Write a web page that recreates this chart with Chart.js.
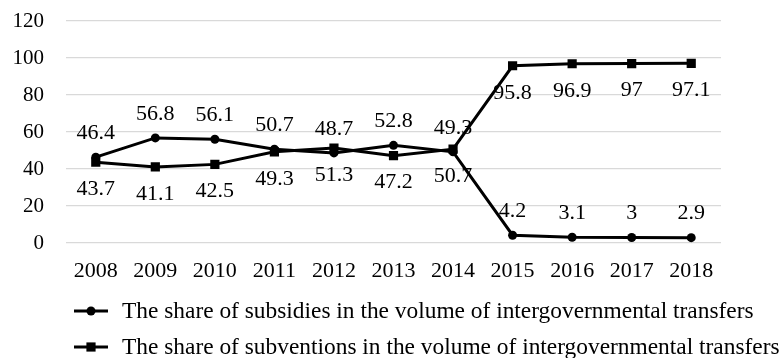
<!DOCTYPE html>
<html>
<head>
<meta charset="utf-8">
<script src="https://cdn.jsdelivr.net/npm/chart.js@4.4.1/dist/chart.umd.min.js"></script>
<style>
  html, body { margin: 0; padding: 0; background: #fff; }
  #wrap { width: 783px; height: 358px; position: relative; }
</style>
</head>
<body>
<div id="wrap"><canvas id="transfersChart"></canvas></div>
<script>
const years = ['2008', '2009', '2010', '2011', '2012', '2013', '2014', '2015', '2016', '2017', '2018'];
const subsidiesShare = [46.4, 56.8, 56.1, 50.7, 48.7, 52.8, 49.3, 4.2, 3.1, 3, 2.9];
const subventionsShare = [43.7, 41.1, 42.5, 49.3, 51.3, 47.2, 50.7, 95.8, 96.9, 97, 97.1];
const yTicks = [0, 20, 40, 60, 80, 100, 120];
const seriesNames = [
    'The share of subsidies in the volume of intergovernmental transfers',
    'The share of subventions in the volume of intergovernmental transfers'
];

const SERIF = "'Liberation Serif', 'Times New Roman', serif";
Chart.defaults.font.family = SERIF;
Chart.defaults.color = '#000';

// value printed next to every point, drawn under the lines
const valueLabels = {
    id: 'valueLabels',
    beforeDatasetsDraw(chart, args, opts) {
        const ctx = chart.ctx;
        ctx.save();
        ctx.font = opts.font;
        ctx.fillStyle = opts.color;
        ctx.textAlign = 'center';
        ctx.textBaseline = 'middle';
        chart.data.datasets.forEach((ds, i) => {
            chart.getDatasetMeta(i).data.forEach((pt, j) => {
                ctx.fillText(String(ds.data[j]), pt.x, pt.y + opts.offsets[i]);
            });
        });
        ctx.restore();
    }
};

// line + marker key under the axis, one row per series
const seriesKey = {
    id: 'seriesKey',
    afterDraw(chart, args, opts) {
        const ctx = chart.ctx;
        ctx.save();
        ctx.font = opts.font;
        ctx.textBaseline = 'middle';
        ctx.textAlign = 'left';
        chart.data.datasets.forEach((ds, i) => {
            const y = opts.top + i * opts.rowGap;
            const cx = opts.x + opts.lineLength / 2;
            ctx.strokeStyle = ds.borderColor;
            ctx.lineWidth = ds.borderWidth;
            ctx.beginPath();
            ctx.moveTo(opts.x, y);
            ctx.lineTo(opts.x + opts.lineLength, y);
            ctx.stroke();
            ctx.fillStyle = ds.pointBackgroundColor;
            ctx.beginPath();
            if (ds.pointStyle === 'rect') {
                const s = ds.pointRadius * Math.SQRT1_2;
                ctx.rect(cx - s, y - s, 2 * s, 2 * s);
            } else {
                ctx.arc(cx, y, ds.pointRadius, 0, Math.PI * 2);
            }
            ctx.fill();
            ctx.fillStyle = '#000';
            ctx.fillText(ds.label, opts.textX, y + 1);
        });
        ctx.restore();
    }
};

new Chart(document.getElementById('transfersChart'), {
    type: 'line',
    data: {
        labels: years,
        datasets: [{
            label: seriesNames[0],
            data: subsidiesShare,
            borderColor: '#000',
            borderWidth: 3,
            pointStyle: 'circle',
            pointRadius: 4.5,
            pointBackgroundColor: '#000',
            pointBorderWidth: 0,
            tension: 0
        }, {
            label: seriesNames[1],
            data: subventionsShare,
            borderColor: '#000',
            borderWidth: 3,
            pointStyle: 'rect',
            pointRadius: 6.5,
            pointBackgroundColor: '#000',
            pointBorderWidth: 0,
            tension: 0
        }]
    },
    options: {
        responsive: true,
        maintainAspectRatio: false,
        animation: false,
        layout: { padding: { top: 21, right: 62, bottom: 75, left: 0 } },
        plugins: {
            legend: { display: false },
            tooltip: { enabled: false },
            valueLabels: {
                font: `22px ${SERIF}`,
                color: '#000',
                offsets: [-24, 27]
            },
            seriesKey: {
                font: `23.4px ${SERIF}`,
                x: 74,
                lineLength: 34,
                textX: 122,
                top: 311,
                rowGap: 36
            }
        },
        scales: {
            x: {
                offset: true,
                grid: { display: false, drawTicks: false },
                border: { display: false },
                ticks: { font: { size: 22 }, padding: 15, maxRotation: 0 },
                afterFit: (s) => { s.height = 40; }
            },
            y: {
                min: yTicks[0],
                max: yTicks[yTicks.length - 1],
                // invisible tick marks keep the labels away from the plot
                grid: { color: '#d9d9d9', lineWidth: 1.3, drawTicks: true, tickLength: 22, tickColor: 'rgba(0,0,0,0)' },
                border: { display: false },
                ticks: { stepSize: yTicks[1] - yTicks[0], font: { size: 21 }, padding: 0 },
                afterFit: (s) => { s.width = 66; }
            }
        }
    },
    plugins: [valueLabels, seriesKey]
});
</script>
</body>
</html>
